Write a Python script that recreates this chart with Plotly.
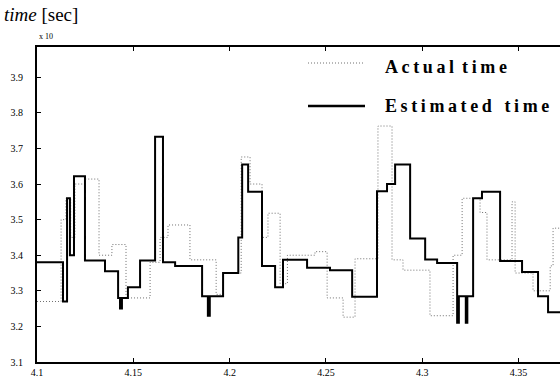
import plotly.graph_objects as go

# Step breakpoints (time) and values (x 10) for each series
est_t = [4.1000, 4.1135, 4.1156, 4.1171, 4.1192, 4.1249, 4.1353, 4.1421, 4.1431, 4.1441,
         4.1472, 4.1535, 4.1613, 4.1654, 4.1717, 4.1857, 4.1887, 4.1897, 4.1966, 4.2045,
         4.2065, 4.2096, 4.2168, 4.2236, 4.2277, 4.2402, 4.2521, 4.2636, 4.2765, 4.2817,
         4.2859, 4.2937, 4.3015, 4.3077, 4.3181, 4.3190, 4.3226, 4.3234, 4.3264, 4.3310,
         4.3404, 4.3518, 4.3601, 4.3653, 4.3715]
est_v = [3.380, 3.270, 3.560, 3.400, 3.622, 3.385, 3.355, 3.280, 3.250, 3.280,
         3.310, 3.385, 3.733, 3.380, 3.370, 3.285, 3.230, 3.285, 3.350, 3.450,
         3.655, 3.578, 3.370, 3.310, 3.387, 3.365, 3.358, 3.283, 3.580, 3.600,
         3.655, 3.447, 3.388, 3.378, 3.210, 3.285, 3.210, 3.285, 3.560, 3.578,
         3.384, 3.353, 3.285, 3.240, 3.240]

act_t = [4.1000, 4.1125, 4.1150, 4.1175, 4.1197, 4.1249, 4.1322, 4.1389, 4.1462, 4.1587,
         4.1639, 4.1680, 4.1794, 4.1930, 4.1966, 4.2060, 4.2106, 4.2168, 4.2199, 4.2262,
         4.2300, 4.2443, 4.2506, 4.2589, 4.2651, 4.2770, 4.2843, 4.2900, 4.3040, 4.3160,
         4.3207, 4.3300, 4.3336, 4.3466, 4.3482, 4.3500, 4.3575, 4.3664, 4.3679, 4.3715]
act_v = [3.270, 3.500, 3.560, 3.450, 3.600, 3.614, 3.400, 3.430, 3.280, 3.380,
         3.450, 3.485, 3.387, 3.290, 3.350, 3.676, 3.600, 3.450, 3.518, 3.320,
         3.400, 3.410, 3.280, 3.226, 3.390, 3.763, 3.387, 3.358, 3.230, 3.400,
         3.560, 3.520, 3.387, 3.550, 3.350, 3.350, 3.300, 3.370, 3.476, 3.476]

x_ticks = [4.1, 4.15, 4.2, 4.25, 4.3, 4.35]
x_tick_text = ["4.1", "4.15", "4.2", "4.25", "4.3", "4.35"]
y_ticks = [3.1, 3.2, 3.3, 3.4, 3.5, 3.6, 3.7, 3.8, 3.9]
y_tick_text = ["3.1", "3.2", "3.3", "3.4", "3.5", "3.6", "3.7", "3.8", "3.9"]

SERIF = "Liberation Serif, Times New Roman, serif"
TS = "\u2009"  # thin space for letter spacing in the key
DOT = "1px,2px"
GREY = "#707070"


def spaced(s):
    return TS.join(list(s))


fig = go.Figure()
fig.add_trace(go.Scatter(x=act_t, y=act_v, mode="lines", line_shape="hv",
                         line=dict(color=GREY, width=1, dash=DOT),
                         name="Actual time", showlegend=False))
fig.add_trace(go.Scatter(x=est_t, y=est_v, mode="lines", line_shape="hv",
                         line=dict(color="black", width=2),
                         name="Estimated time", showlegend=False))

# key: sample lines and labels
fig.add_shape(type="line", xref="paper", yref="paper",
              x0=(308 - 37) / 523, x1=(365 - 37) / 523,
              y0=(362 - 63) / 315, y1=(362 - 63) / 315,
              line=dict(color=GREY, width=1, dash=DOT))
fig.add_shape(type="line", xref="paper", yref="paper",
              x0=(308 - 37) / 523, x1=(365 - 37) / 523,
              y0=(362 - 106) / 315, y1=(362 - 106) / 315,
              line=dict(color="black", width=2.5))
fig.add_annotation(xref="paper", yref="paper", x=(383 - 37) / 523, y=(362 - 67) / 315,
                   xanchor="left", yanchor="middle", showarrow=False,
                   text="<b>" + spaced("Actual") + TS + " " + spaced("time") + "</b>",
                   font=dict(family=SERIF, size=18, color="black"))
fig.add_annotation(xref="paper", yref="paper", x=(383 - 37) / 523, y=(362 - 106) / 315,
                   xanchor="left", yanchor="middle", showarrow=False,
                   text="<b>" + spaced("Estimated") + TS + "  " + spaced("time") + "</b>",
                   font=dict(family=SERIF, size=18, color="black"))

# axis title and multiplier
fig.add_annotation(xref="paper", yref="paper", x=-35 / 523, y=(362 - 15) / 315,
                   xanchor="left", yanchor="middle", showarrow=False,
                   text="<i>time</i> [sec]",
                   font=dict(family=SERIF, size=19, color="black"))
fig.add_annotation(xref="paper", yref="paper", x=0.0, y=(362 - 37) / 315,
                   xanchor="left", yanchor="middle", showarrow=False,
                   text="x 10", font=dict(family=SERIF, size=8, color="black"))

fig.update_layout(
    width=560, height=380,
    margin=dict(l=37, r=0, t=47, b=18),
    paper_bgcolor="white", plot_bgcolor="white",
    font=dict(family=SERIF, size=10, color="black"),
    xaxis=dict(range=[4.1, 4.3715], tickvals=x_ticks, ticktext=x_tick_text,
               ticks="inside", ticklen=4, tickwidth=1, tickcolor="black",
               showline=True, linecolor="black", linewidth=2, mirror="ticks",
               showgrid=False, zeroline=False,
               tickfont=dict(family=SERIF, size=10, color="black")),
    yaxis=dict(range=[3.1, 3.985], tickvals=y_ticks, ticktext=y_tick_text,
               ticks="inside", ticklen=4, tickwidth=1, tickcolor="black",
               showline=True, linecolor="black", linewidth=2,
               showgrid=False, zeroline=False, ticklabelstandoff=10,
               tickfont=dict(family=SERIF, size=10, color="black")),
)

fig.write_html("out.html")
